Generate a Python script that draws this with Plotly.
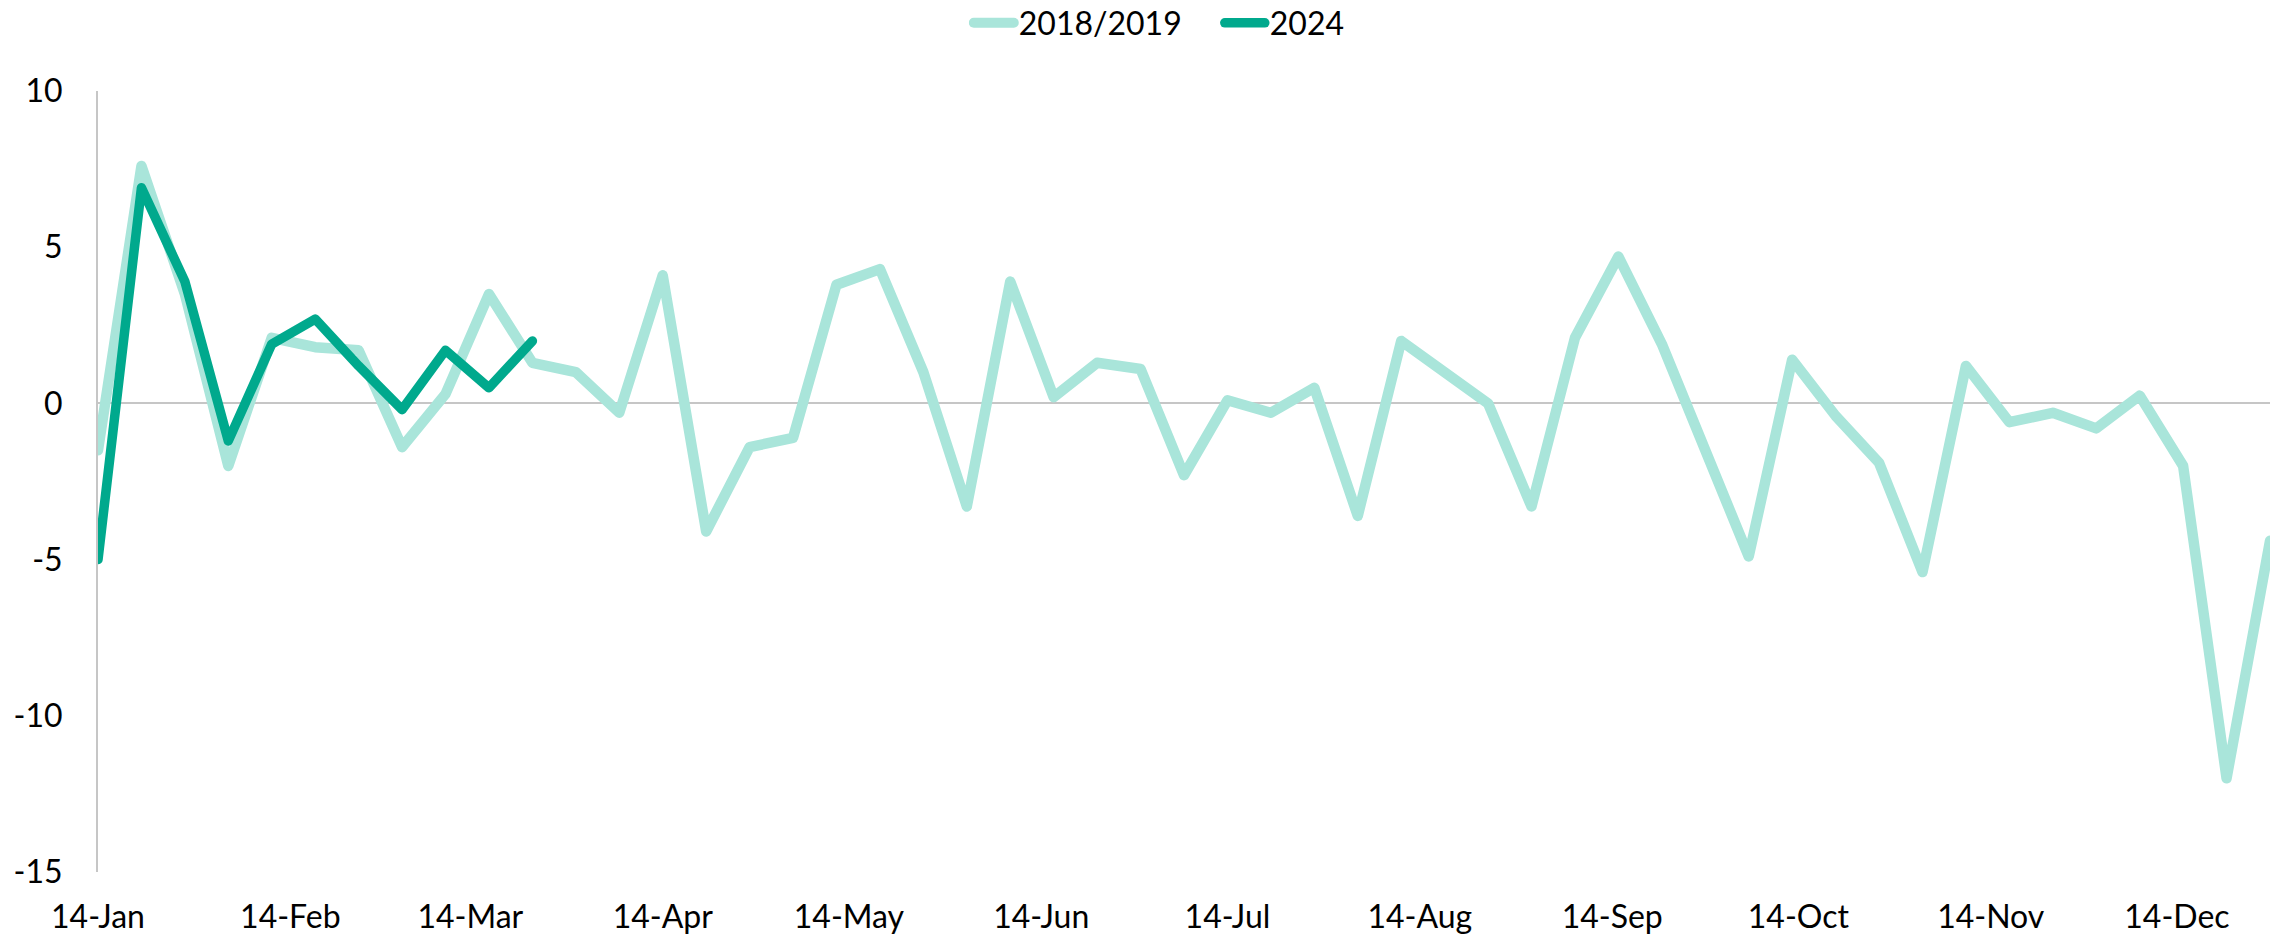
import pandas as pd
import plotly.graph_objects as go

# Weekly observation dates (first observation 14-Jan)
start_date = "2024-01-14"
n_weeks = 51
dates = pd.date_range(start_date, periods=n_weeks, freq="7D")

series_2018_2019 = [
    -1.5, 7.6, 3.5, -2.0, 2.1, 1.8, 1.7, -1.4, 0.3, 3.5,
    1.3, 1.0, -0.3, 4.1, -4.1, -1.4, -1.1, 3.8, 4.3, 1.0,
    -3.3, 3.9, 0.2, 1.3, 1.1, -2.3, 0.1, -0.3, 0.5, -3.6,
    2.0, 1.0, 0.0, -3.3, 2.1, 4.7, 1.9, -1.5, -4.9, 1.4,
    -0.4, -1.9, -5.4, 1.2, -0.6, -0.3, -0.8, 0.25, -2.0, -12.0,
    -4.4,
]
series_2024 = [-5.0, 6.9, 3.9, -1.2, 1.9, 2.7, 1.2, -0.2, 1.7, 0.5, 2.0]

tick_labels = ["14-Jan", "14-Feb", "14-Mar", "14-Apr", "14-May", "14-Jun",
               "14-Jul", "14-Aug", "14-Sep", "14-Oct", "14-Nov", "14-Dec"]
tick_dates = [pd.to_datetime(t + "-2024", format="%d-%b-%Y") for t in tick_labels]

y_ticks = [-15, -10, -5, 0, 5, 10]

LIGHT = "#A9E5DA"
DARK = "#00A98D"
FONT = "Lato, Open Sans, sans-serif"

fig = go.Figure()
fig.add_trace(go.Scatter(x=dates, y=series_2018_2019, mode="lines", name="2018/2019",
                         line=dict(color=LIGHT, width=10.5)))
fig.add_trace(go.Scatter(x=dates[:len(series_2024)], y=series_2024, mode="lines", name="2024",
                         line=dict(color=DARK, width=9.5)))

fig.update_layout(
    width=2280, height=940,
    margin=dict(l=98, r=10, t=91, b=68),
    paper_bgcolor="white", plot_bgcolor="white",
    font=dict(family=FONT, size=32, color="black"),
    legend=dict(orientation="h", xref="container", yref="container",
                x=0.535, xanchor="center", y=1 - 23 / 940, yanchor="middle",
                font=dict(size=32), itemwidth=40, tracegroupgap=0,
                entrywidth=196, entrywidthmode="pixels"),
    showlegend=True,
)
fig.update_xaxes(
    type="date", range=[dates[0], dates[-1]],
    tickvals=tick_dates, ticktext=tick_labels,
    showgrid=False, showline=False, zeroline=False, ticks="",
    ticklabelstandoff=23, automargin=False,
)
fig.update_yaxes(
    range=[-15, 10], tickvals=y_ticks, ticktext=[str(v) for v in y_ticks],
    showgrid=False, showline=True, linecolor="#C6C6C6", linewidth=2,
    zeroline=True, zerolinecolor="#C6C6C6", zerolinewidth=2, ticks="",
    ticklabelstandoff=27, automargin=False,
)

post = (
    "document.body.style.margin='0';"
    "document.querySelectorAll('path.js-line').forEach(function(p){"
    "p.style.strokeLinejoin='round';p.style.strokeLinecap='round';});"
)
fig.write_html("out.html", post_script=post, config={"displayModeBar": False})
